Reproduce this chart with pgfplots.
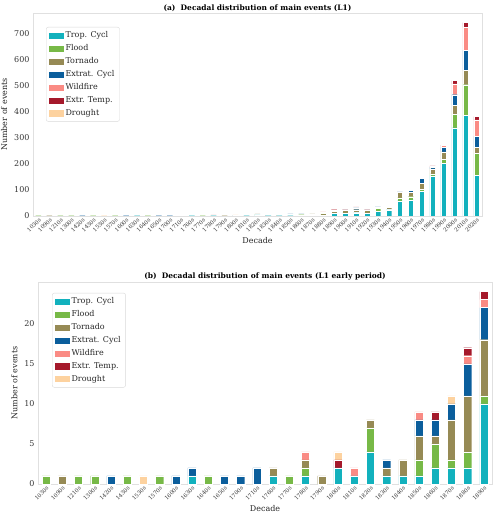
\documentclass[border=0pt]{standalone}
\usepackage{fontspec}
\setmainfont{DejaVu Serif}
\usepackage{pgfplots}
\pgfplotsset{compat=1.18}
\usepackage{pgfplotstable}

\definecolor{cTrop}{HTML}{12B1BD}
\definecolor{cFlood}{HTML}{77B947}
\definecolor{cTorn}{HTML}{968A55}
\definecolor{cExtr}{HTML}{0B5E9C}
\definecolor{cWild}{HTML}{FA8B84}
\definecolor{cTemp}{HTML}{A5192B}
\definecolor{cDrou}{HTML}{FDD29F}

\pgfplotstableread{
idx trop flood tornado extrat wildfire temp drought
0 0 1 0 0 0 0 0
1 0 0 1 0 0 0 0
2 0 1 0 0 0 0 0
3 0 1 0 0 0 0 0
4 0 0 0 1 0 0 0
5 0 1 0 0 0 0 0
6 0 0 0 0 0 0 1
7 0 1 0 0 0 0 0
8 0 0 0 1 0 0 0
9 1 0 0 1 0 0 0
10 0 1 0 0 0 0 0
11 0 0 0 1 0 0 0
12 0 0 0 1 0 0 0
13 0 0 0 2 0 0 0
14 1 0 1 0 0 0 0
15 0 1 0 0 0 0 0
16 1 1 1 0 1 0 0
17 0 0 1 0 0 0 0
18 2 0 0 0 0 1 1
19 1 0 0 0 1 0 0
20 4 3 1 0 0 0 0
21 1 0 1 1 0 0 0
22 1 0 2 0 0 0 0
23 1 2 3 2 1 0 0
24 2 3 1 2 0 1 0
25 2 1 5 2 0 0 1
26 2 2 7 4 1 1 0
27 10 1 7 4 1 1 0
28 9 3 10 1 1 0 0
29 12 3 9 7 4 0 0
30 9 3 9 2 1 0 0
31 18 11 4 2 2 0 0
32 23 3 8 3 0 0 0
33 58 11 22 1 2 0 0
34 62 12 17 8 2 0 0
35 94 9 23 18 1 0 0
36 154 7 20 6 3 2 0
37 201 17 28 17 7 2 0
38 338 52 34 41 41 13 0
39 385 118 56 76 87 19 0
40 156 85 22 42 63 13 0
}\dataA

\pgfplotstableread{
idx trop flood tornado extrat wildfire temp drought
0 0 1 0 0 0 0 0
1 0 0 1 0 0 0 0
2 0 1 0 0 0 0 0
3 0 1 0 0 0 0 0
4 0 0 0 1 0 0 0
5 0 1 0 0 0 0 0
6 0 0 0 0 0 0 1
7 0 1 0 0 0 0 0
8 0 0 0 1 0 0 0
9 1 0 0 1 0 0 0
10 0 1 0 0 0 0 0
11 0 0 0 1 0 0 0
12 0 0 0 1 0 0 0
13 0 0 0 2 0 0 0
14 1 0 1 0 0 0 0
15 0 1 0 0 0 0 0
16 1 1 1 0 1 0 0
17 0 0 1 0 0 0 0
18 2 0 0 0 0 1 1
19 1 0 0 0 1 0 0
20 4 3 1 0 0 0 0
21 1 0 1 1 0 0 0
22 1 0 2 0 0 0 0
23 1 2 3 2 1 0 0
24 2 3 1 2 0 1 0
25 2 1 5 2 0 0 1
26 2 2 7 4 1 1 0
27 10 1 7 4 1 1 0
}\dataB

\pgfplotsset{
  legrect/.style={legend image code/.code={\fill[#1, sharp corners] (0pt,-2.6pt) rectangle (14pt,2.6pt);}},
  every axis title shift=0pt,
  evstyle/.style={
    ybar stacked, bar width=0.5, scale only axis,
    ymin=0, xtick=data,
    axis line style={black!12},
    major tick length=0pt,
    tick label style={text=black!80},
    /pgf/number format/assume math mode=true,
    yticklabel style={font=\fontsize{8}{9}\selectfont},
    xticklabel style={rotate=45, anchor=north east, font=\fontsize{5.5}{6}\selectfont, inner sep=1pt},
    xlabel={Decade}, ylabel={Number of events},
    label style={font=\fontsize{8}{9}\selectfont, text=black!85},
    title style={font=\bfseries\fontsize{7.5}{9}\selectfont, at={(0.5,1)}, anchor=south, inner sep=1.5pt},
    legend cell align=left,
    legend style={draw=black!15, rounded corners=2pt, fill=white,
      font=\fontsize{8}{9}\selectfont, text=black!85, row sep=1.4pt,
      inner xsep=3pt, inner ysep=2.5pt},
    every axis plot/.append style={draw=white, line width=0.3pt, sharp corners},
  }
}

\begin{document}
\begin{tikzpicture}
\useasboundingbox (0,0) rectangle (500pt,516pt);
\begin{axis}[evstyle, at={(33pt,300pt)}, anchor=south west,
  width=449pt, height=203pt,
  xmin=-0.5, xmax=40.5, ymax=778,
  ytick={0,100,...,700},
  xticklabels={1030s,1090s,1210s,1300s,1420s,1430s,1530s,1570s,1600s,1630s,1640s,1650s,1700s,1710s,1760s,1770s,1780s,1790s,1800s,1810s,1820s,1830s,1840s,1850s,1860s,1870s,1880s,1890s,1900s,1910s,1920s,1930s,1940s,1950s,1960s,1970s,1980s,1990s,2000s,2010s,2020s},
  title={(a)\ \ Decadal distribution of main events (L1)},
  legend style={at={(0.029,0.931)}, anchor=north west},
]
\addlegendimage{legrect=cTrop}
\addlegendimage{legrect=cFlood}
\addlegendimage{legrect=cTorn}
\addlegendimage{legrect=cExtr}
\addlegendimage{legrect=cWild}
\addlegendimage{legrect=cTemp}
\addlegendimage{legrect=cDrou}
\addplot[fill=cTrop] table[x=idx,y=trop]{\dataA};
\addplot[fill=cFlood] table[x=idx,y=flood]{\dataA};
\addplot[fill=cTorn] table[x=idx,y=tornado]{\dataA};
\addplot[fill=cExtr] table[x=idx,y=extrat]{\dataA};
\addplot[fill=cWild] table[x=idx,y=wildfire]{\dataA};
\addplot[fill=cTemp] table[x=idx,y=temp]{\dataA};
\addplot[fill=cDrou] table[x=idx,y=drought]{\dataA};
\legend{Trop. Cycl,Flood,Tornado,Extrat. Cycl,Wildfire,Extr. Temp.,Drought}
\end{axis}

\begin{axis}[evstyle, at={(38pt,32pt)}, anchor=south west,
  width=454pt, height=202pt,
  xmin=-0.5, xmax=27.5, ymax=25.2,
  ytick={0,5,10,15,20},
  xticklabels={1030s,1090s,1210s,1300s,1420s,1430s,1530s,1570s,1600s,1630s,1640s,1650s,1700s,1710s,1760s,1770s,1780s,1790s,1800s,1810s,1820s,1830s,1840s,1850s,1860s,1870s,1880s,1890s},
  title={(b)\ \ Decadal distribution of main events (L1 early period)},
  legend style={at={(0.031,0.946)}, anchor=north west},
]
\addlegendimage{legrect=cTrop}
\addlegendimage{legrect=cFlood}
\addlegendimage{legrect=cTorn}
\addlegendimage{legrect=cExtr}
\addlegendimage{legrect=cWild}
\addlegendimage{legrect=cTemp}
\addlegendimage{legrect=cDrou}
\addplot[fill=cTrop] table[x=idx,y=trop]{\dataB};
\addplot[fill=cFlood] table[x=idx,y=flood]{\dataB};
\addplot[fill=cTorn] table[x=idx,y=tornado]{\dataB};
\addplot[fill=cExtr] table[x=idx,y=extrat]{\dataB};
\addplot[fill=cWild] table[x=idx,y=wildfire]{\dataB};
\addplot[fill=cTemp] table[x=idx,y=temp]{\dataB};
\addplot[fill=cDrou] table[x=idx,y=drought]{\dataB};
\legend{Trop. Cycl,Flood,Tornado,Extrat. Cycl,Wildfire,Extr. Temp.,Drought}
\end{axis}
\end{tikzpicture}
\end{document}
